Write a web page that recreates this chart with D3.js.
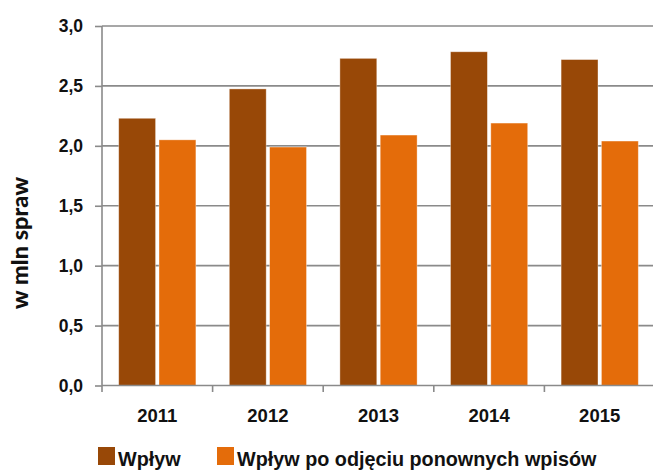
<!DOCTYPE html>
<html><head><meta charset="utf-8">
<script src="https://cdn.jsdelivr.net/npm/d3@7"></script>
<style>
body{margin:0;background:#fff;}
svg{display:block;}
.narrow{font-family:"Liberation Sans Narrow","Arial Narrow","Liberation Sans",Arial,sans-serif;font-weight:bold;}
</style></head>
<body>
<svg id="c" width="653" height="471"></svg>
<script>
const categories = ["2011","2012","2013","2014","2015"];
const seriesNames = ["Wpływ","Wpływ po odjęciu ponownych wpisów"];
const wplyw = [2.23, 2.475, 2.73, 2.785, 2.72];
const wplywPo = [2.05, 1.99, 2.09, 2.19, 2.04];
const yTicks = [0, 0.5, 1.0, 1.5, 2.0, 2.5, 3.0];
const colors = ["#984807", "#E46C0A"];

const svg = d3.select("#c");
const mLeft = 102, mRight = 655, mTop = 26, mBottom = 385.5;

const x = d3.scaleBand().domain(categories).range([mLeft, mRight]).paddingInner(0).paddingOuter(0);
const inner = d3.scaleBand().domain([0,1]).range([16.7, x.bandwidth()-16.7]).paddingInner(0.085);
const y = d3.scaleLinear().domain([0, 3]).range([mBottom, mTop]);

const fmt = d => d.toFixed(1).replace(".", ",");

// gridlines
svg.append("g").selectAll("line").data(yTicks.filter(d=>d>0)).join("line")
  .attr("x1", mLeft).attr("x2", 653)
  .attr("y1", d=>y(d)).attr("y2", d=>y(d))
  .attr("stroke", "#8a8a8a").attr("stroke-width", 1.6);

// bars
const data = categories.map((c,i)=>({c, v:[wplyw[i], wplywPo[i]]}));
const g = svg.append("g");
data.forEach(d=>{
  d.v.forEach((v,k)=>{
    g.append("rect")
      .attr("x", x(d.c)+inner(k)).attr("width", inner.bandwidth())
      .attr("y", y(v)).attr("height", y(0)-y(v))
      .attr("fill", colors[k])
      .attr("stroke", "rgba(255,255,255,0.45)").attr("stroke-width", 0.8);
  });
});

// y axis
const yAxis = d3.axisLeft(y).tickValues(yTicks).tickFormat(fmt).tickSize(7).tickPadding(12);
const ya = svg.append("g").attr("transform", `translate(${mLeft},0)`).call(yAxis);
ya.select(".domain").attr("stroke", "#8a8a8a").attr("stroke-width", 1.6).attr("d", `M0,${mTop}V${mBottom}`);
ya.selectAll(".tick line").attr("stroke", "#8a8a8a").attr("stroke-width", 1.6);
ya.selectAll("text").attr("class","narrow").attr("font-size", 17.5).attr("fill", "#111");

// x axis
const xAxis = d3.axisBottom(x).tickSize(0).tickPadding(23);
const xa = svg.append("g").attr("transform", `translate(0,${mBottom})`).call(xAxis);
xa.select(".domain").attr("stroke", "#8a8a8a").attr("stroke-width", 1.6).attr("d", `M${mLeft},0H653`);
xa.selectAll("text").attr("class","narrow").attr("font-size", 18.5).attr("fill", "#111");
// category boundary ticks
svg.append("g").selectAll("line").data(categories).join("line")
  .attr("x1", d=>x(d)).attr("x2", d=>x(d))
  .attr("y1", mBottom).attr("y2", mBottom+6.5)
  .attr("stroke", "#8a8a8a").attr("stroke-width", 1.6);

// y label
svg.append("text")
  .attr("transform", "translate(28,243) rotate(-90)")
  .attr("text-anchor", "middle")
  .attr("font-family", "Lato,'Open Sans',sans-serif")
  .attr("font-weight", "900").attr("font-size", 23.5).attr("fill", "#111")
  .text("w mln spraw");

// legend
const legX = [98, 217];
const lg = svg.append("g");
seriesNames.forEach((n,i)=>{
  lg.append("rect").attr("x", legX[i]).attr("y", 447).attr("width", 17).attr("height", 18).attr("fill", colors[i]);
  lg.append("text").attr("class","narrow").attr("x", legX[i]+20).attr("y", 465.5)
    .attr("font-size", 19.8).attr("fill", "#111").text(n);
});
</script>
</body></html>
